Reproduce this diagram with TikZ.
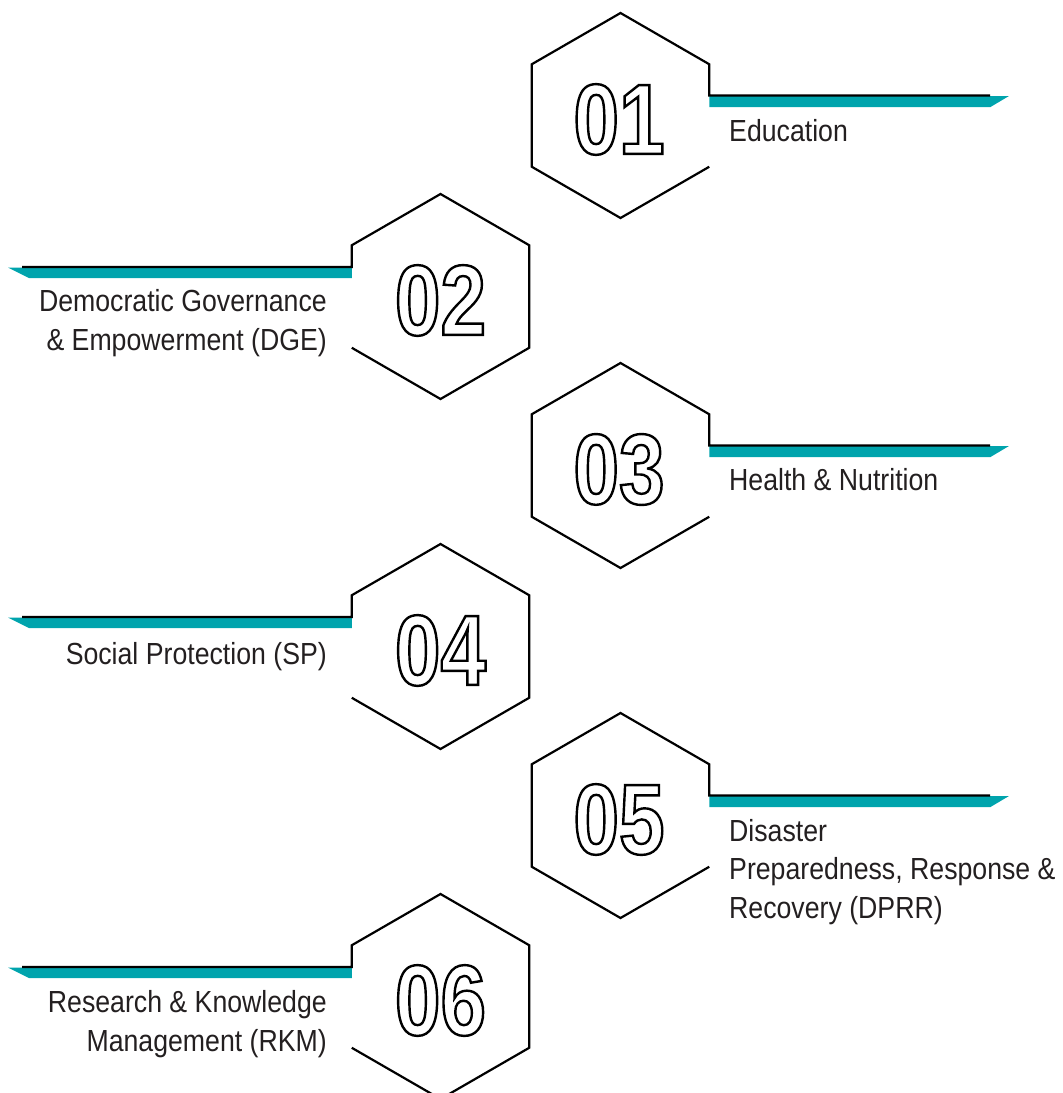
\documentclass[tikz,border=0pt]{standalone}
\usepackage{fontspec}
\setmainfont{Liberation Sans}
\newfontfamily\labelfont[FakeStretch=0.875]{Liberation Sans}
\newfontfamily\numfont[FakeStretch=0.82]{Liberation Sans Bold}
\definecolor{bandteal}{HTML}{00A4AD}
\definecolor{ink}{HTML}{231F20}
\newcommand\outlined[1]{\special{pdf:literal direct 1 Tr 2.4 w}#1\special{pdf:literal direct 0 Tr}}
\tikzset{
  hexline/.style={draw=black, line width=2.2pt, line join=miter},
  band/.style={fill=bandteal, draw=none},
  num/.style={inner sep=0pt, text=black, font=\numfont\fontsize{100}{100}\selectfont},
  lbl/.style={inner sep=0pt, text=ink, font=\labelfont\fontsize{30.5}{38.5}\selectfont}
}
\begin{document}
\begin{tikzpicture}[x=1pt,y=-1pt]
\useasboundingbox (0,0) rectangle (1063,1093);
% right hexagons
\foreach \i/\ty/\n in {1/13/01,3/363/03,5/713/05}{
  \coordinate (h\i-t)  at (620.5,\ty);
  \coordinate (h\i-ur) at (709.25,\ty+51.25);
  \coordinate (h\i-lr) at (709.25,\ty+153.75);
  \coordinate (h\i-b)  at (620.5,\ty+205);
  \coordinate (h\i-ll) at (531.75,\ty+153.75);
  \coordinate (h\i-ul) at (531.75,\ty+51.25);
  \coordinate (h\i-k)  at (709.25,\ty+82.5);
  \coordinate (h\i-e)  at (990,\ty+82.5);
  \fill[band] (709.25,\ty+83) -- (1009,\ty+83) -- (990.5,\ty+94) -- (709.25,\ty+94) -- cycle;
  \draw[hexline] (h\i-lr) -- (h\i-b) -- (h\i-ll) -- (h\i-ul) -- (h\i-t) -- (h\i-ur) -- (h\i-k) -- (h\i-e);
  \node[num] (n\i) at (619,\ty+106.5) {\outlined{\n}};
}
% left hexagons
\foreach \i/\ty/\n in {2/194/02,4/544/04,6/894/06}{
  \coordinate (h\i-t)  at (440.5,\ty);
  \coordinate (h\i-ul) at (351.75,\ty+51.25);
  \coordinate (h\i-ll) at (351.75,\ty+153.75);
  \coordinate (h\i-b)  at (440.5,\ty+205);
  \coordinate (h\i-lr) at (529.25,\ty+153.75);
  \coordinate (h\i-ur) at (529.25,\ty+51.25);
  \coordinate (h\i-k)  at (351.75,\ty+73);
  \coordinate (h\i-e)  at (22,\ty+73);
  \fill[band] (351.75,\ty+73.5) -- (8,\ty+73.5) -- (29,\ty+84) -- (351.75,\ty+84) -- cycle;
  \draw[hexline] (h\i-ll) -- (h\i-b) -- (h\i-lr) -- (h\i-ur) -- (h\i-t) -- (h\i-ul) -- (h\i-k) -- (h\i-e);
  \node[num] (n\i) at (440.5,\ty+106.5) {\outlined{\n}};
}
% labels
\node[lbl, anchor=base west, align=left] (l1) at (729,141) {Education};
\node[lbl, anchor=base east, align=right] (l2) at (327,350) {Democratic Governance\\\& Empowerment (DGE)};
\node[lbl, anchor=base west, align=left] (l3) at (729,490) {Health \& Nutrition};
\node[lbl, anchor=base east, align=right] (l4) at (327,664) {Social Protection (SP)};
\node[lbl, anchor=base west, align=left] (l5) at (729,918) {Disaster\\Preparedness, Response \&\\Recovery (DPRR)};
\node[lbl, anchor=base east, align=right] (l6) at (327,1051) {Research \& Knowledge\\Management (RKM)};
\end{tikzpicture}
\end{document}
